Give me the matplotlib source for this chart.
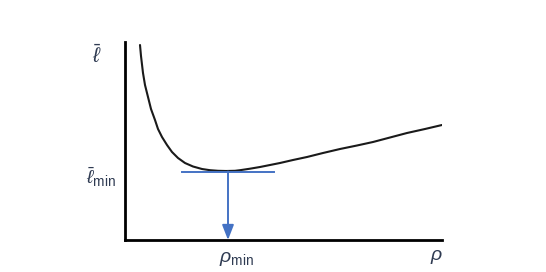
import matplotlib
matplotlib.use('Agg')
import matplotlib.pyplot as plt

# curve (rho, mean length) in plot units
rho = [15, 16, 18, 20, 23, 26, 30, 33, 37, 42, 47, 53, 60, 68, 77, 85, 93, 101, 110,
       115, 125, 135, 145, 155, 168, 182, 198, 215, 232, 248, 265, 282, 300, 317]
ell = [195, 184, 167, 155, 143, 131, 120, 111, 103, 95, 88, 82, 77, 73.5, 71, 69.8, 69.2, 69, 69.2,
       69.8, 71.3, 73, 75, 77, 80, 83, 87, 91, 94.5, 98, 102.5, 107, 111, 115]
rho_min = 103
ell_min = 68.5
hline_x = [57, 149]

plt.rcParams['mathtext.fontset'] = 'custom'
plt.rcParams['mathtext.rm'] = 'Liberation Sans'
plt.rcParams['mathtext.it'] = 'Liberation Sans:italic'

fig = plt.figure(figsize=(5.46, 2.72), dpi=100)
ax = fig.add_axes([125/546, 32/272, 317/546, 198/272])
ax.set_xlim(0, 317)
ax.set_ylim(0, 198)

ax.plot(rho, ell, color='#1a1a1a', lw=1.5, solid_capstyle='round')

blue = '#4472c4'
ax.plot(hline_x, [ell_min, ell_min], color=blue, lw=1.4)
ax.annotate('', xy=(rho_min, 0), xytext=(rho_min, ell_min),
            arrowprops=dict(arrowstyle='-|>,head_width=0.35,head_length=0.9',
                            color=blue, lw=1.4, shrinkA=0, shrinkB=0))

for s in ['top', 'right']:
    ax.spines[s].set_visible(False)
for s in ['left', 'bottom']:
    ax.spines[s].set_linewidth(2)
    ax.spines[s].set_color('black')
ax.set_xticks([])
ax.set_yticks([])

txt = '#2f3b52'
fig.text(97/546, 1 - 56/272, r'$\bar{\ell}$', fontsize=15, color=txt, ha='center', va='center')
fig.text(101/546, 1 - 177/272, r'$\bar{\ell}_{\mathrm{min}}$', fontsize=14, color=txt, ha='center', va='center')
fig.text(236/546, 1 - 258/272, r'$\rho_{\mathrm{min}}$', fontsize=14, color=txt, ha='center', va='center')
fig.text(437/546, 1 - 257/272, r'$\rho$', fontsize=14, color=txt, ha='center', va='center')

fig.savefig('out.png', dpi=100)
